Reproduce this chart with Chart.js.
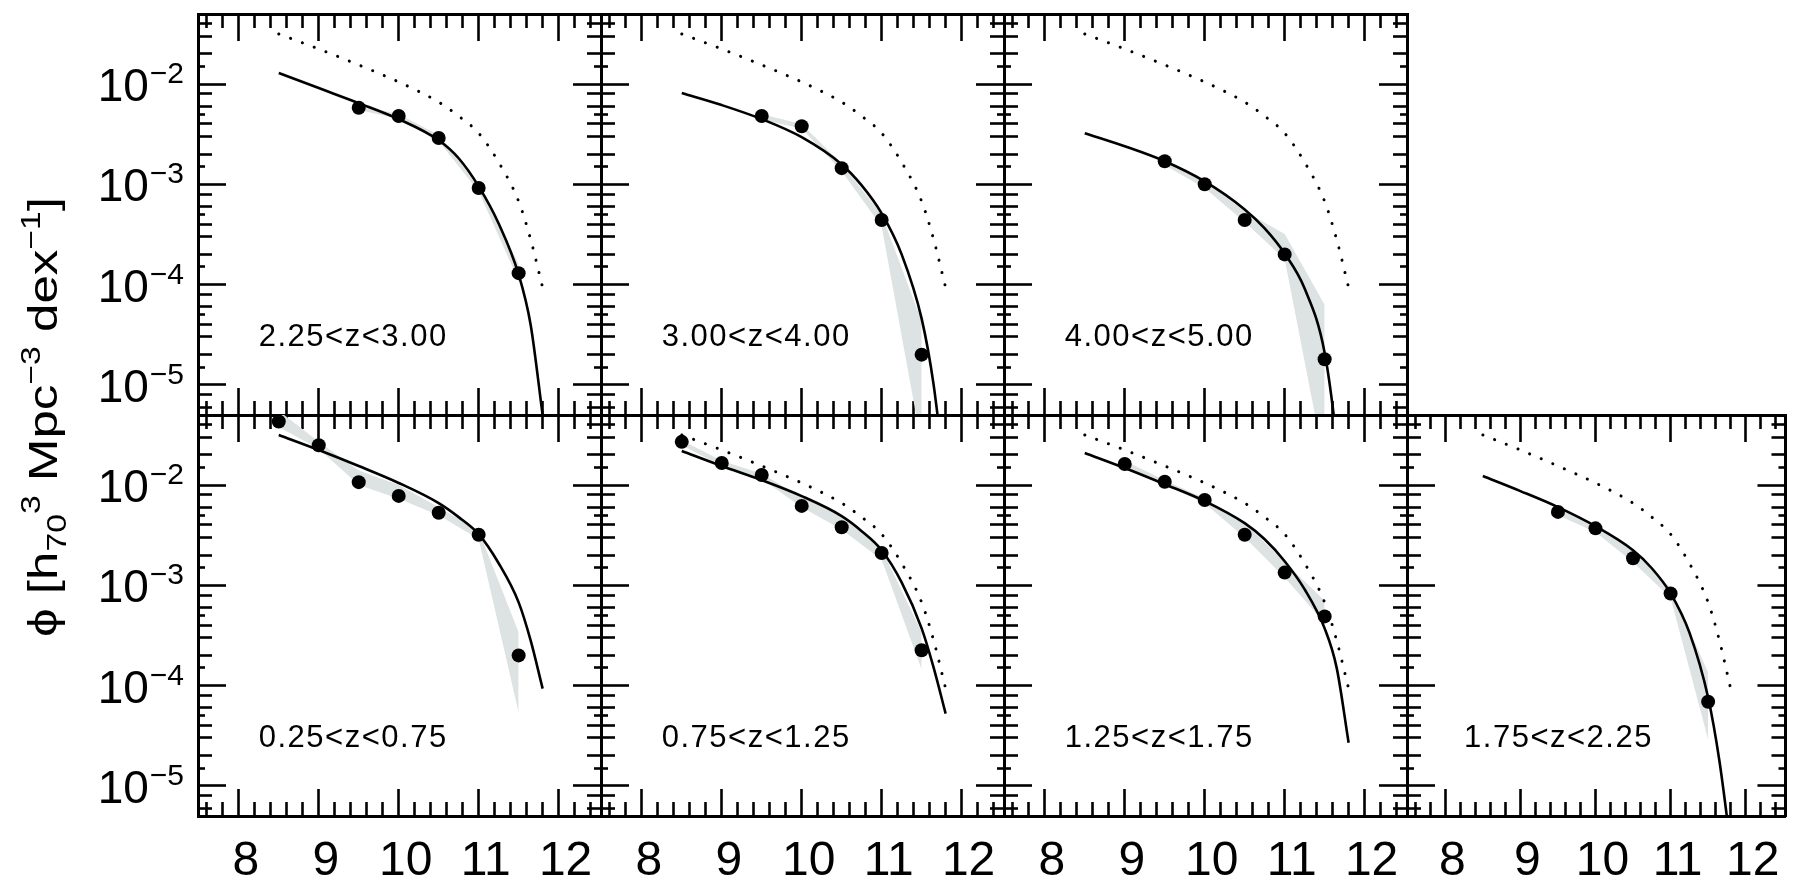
<!DOCTYPE html>
<html>
<head>
<meta charset="utf-8">
<title>Stellar mass functions by redshift bin</title>
<script src="https://cdn.jsdelivr.net/npm/chart.js@4.4.1/dist/chart.umd.min.js"></script>
<style>
  html, body { margin: 0; padding: 0; background: #ffffff; overflow: hidden; }
  #wrap { position: relative; width: 1808px; height: 882px; overflow: hidden; background: #ffffff; }
  #wrap canvas { position: absolute; left: 0; top: 0; }
</style>
</head>
<body>
<div id="wrap"></div>
<script>
// ---------------------------------------------------------------
// Axes: log stellar mass (x) and number density phi (y, log scale)
// ---------------------------------------------------------------
const massRange = [7.49, 12.53];
const phiRange = [5e-6, 5e-2];
const massTicks = [8, 9, 10, 11, 12];
const massMinorTicks = [7.6, 7.8, 8.2, 8.4, 8.6, 8.8, 9.2, 9.4, 9.6, 9.8, 10.2, 10.4,
                        10.6, 10.8, 11.2, 11.4, 11.6, 11.8, 12.2, 12.4];
const phiDecades = [1e-5, 1e-4, 1e-3, 1e-2];
const phiMinorMantissas = [2, 3, 4, 6, 8];
const phiTinyMantissas = [1.5, 5];

// Grid of masses on which every Schechter fit is tabulated
const fitMass = [8.5, 9.0, 9.5, 10.0, 10.5, 10.75, 11.0, 11.25, 11.5, 11.65, 11.8];

// Fit of the lowest-redshift bin; repeated dotted in the other bins
const refFitPhi = [3.16e-2, 2.24e-2, 1.55e-2, 1.05e-2, 6.61e-3, 4.79e-3, 3.24e-3, 1.66e-3, 6.76e-4, 2.82e-4, 9.33e-5];

// Fits per redshift bin
const fitPhi_075_125 = [2.19e-2, 1.55e-2, 1.12e-2, 7.76e-3, 4.90e-3, 3.47e-3, 2.24e-3, 1.07e-3, 3.72e-4, 1.51e-4, 5.25e-5];
const fitPhi_125_175 = [2.09e-2, 1.48e-2, 1.02e-2, 6.92e-3, 4.17e-3, 2.88e-3, 1.74e-3, 9.12e-4, 3.72e-4, 1.51e-4, 2.69e-5];
const fitPhi_175_225 = [1.23e-2, 8.71e-3, 6.03e-3, 3.89e-3, 2.24e-3, 1.48e-3, 8.32e-4, 3.39e-4, 7.59e-5, 1.78e-5, 2.51e-6];
const fitPhi_225_300 = [1.29e-2, 9.12e-3, 6.46e-3, 4.47e-3, 2.75e-3, 1.82e-3, 9.55e-4, 4.07e-4, 1.26e-4, 3.98e-5, 5.0e-6];
const fitPhi_300_400 = [8.13e-3, 6.17e-3, 4.47e-3, 2.95e-3, 1.58e-3, 9.77e-4, 5.13e-4, 2.0e-4, 4.57e-5, 1.0e-5, 1.0e-6];
const fitPhi_400_500 = [3.24e-3, 2.40e-3, 1.70e-3, 1.07e-3, 5.62e-4, 3.63e-4, 2.04e-4, 9.12e-5, 2.09e-5, 2.82e-6, 1.58e-7];

// Measured mass functions (bin centres) with their uncertainty envelopes
const binMassLow = [8.5, 9.0, 9.5, 10.0, 10.5, 11.0, 11.5];
const binMassMid = [9.0, 9.5, 10.0, 10.5, 11.0, 11.5];
const binMassHigh = [9.5, 10.0, 10.5, 11.0, 11.5];

const phi_025_075   = [4.3e-2, 2.5e-2, 1.07e-2, 7.8e-3, 5.3e-3, 3.2e-3, 2.0e-4];
const phiHi_025_075 = [5.5e-2, 2.7e-2, 1.4e-2, 1.0e-2, 6.0e-3, 3.5e-3, 3.4e-4];
const phiLo_025_075 = [3.8e-2, 2.3e-2, 1.0e-2, 7.3e-3, 5.0e-3, 2.9e-3, 5.4e-5];

const phi_075_125   = [2.7e-2, 1.66e-2, 1.26e-2, 6.2e-3, 3.8e-3, 2.1e-3, 2.25e-4];
const phiHi_075_125 = [2.8e-2, 1.75e-2, 1.3e-2, 7.6e-3, 4.8e-3, 2.3e-3, 3.4e-4];
const phiLo_075_125 = [2.5e-2, 1.55e-2, 1.15e-2, 6.0e-3, 3.6e-3, 1.8e-3, 1.45e-4];

const phi_125_175   = [1.62e-2, 1.08e-2, 7.1e-3, 3.2e-3, 1.34e-3, 4.9e-4];
const phiHi_125_175 = [1.75e-2, 1.12e-2, 7.4e-3, 4.2e-3, 1.7e-3, 7.0e-4];
const phiLo_125_175 = [1.5e-2, 1.0e-2, 6.6e-3, 3.0e-3, 1.2e-3, 4.2e-4];

const phi_175_225   = [5.4e-3, 3.7e-3, 1.86e-3, 8.3e-4, 6.9e-5];
const phiHi_175_225 = [5.8e-3, 4.0e-3, 2.2e-3, 9.5e-4, 1.35e-4];
const phiLo_175_225 = [5.0e-3, 3.4e-3, 1.7e-3, 7.5e-4, 2.9e-5];

const phi_225_300   = [5.8e-3, 4.8e-3, 2.9e-3, 9.2e-4, 1.3e-4];
const phiHi_225_300 = [6.2e-3, 5.0e-3, 3.1e-3, 1.0e-3, 1.6e-4];
const phiLo_225_300 = [5.5e-3, 4.5e-3, 2.7e-3, 8.5e-4, 1.1e-4];

const phi_300_400   = [4.8e-3, 3.8e-3, 1.45e-3, 4.4e-4, 2.0e-5];
const phiHi_300_400 = [5.0e-3, 4.0e-3, 1.6e-3, 5.0e-4, 4.3e-5];
const phiLo_300_400 = [4.4e-3, 3.6e-3, 1.35e-3, 3.8e-4, 2.5e-6];

const phi_400_500   = [1.7e-3, 1.0e-3, 4.4e-4, 2.0e-4, 1.8e-5];
const phiHi_400_500 = [1.8e-3, 1.08e-3, 5.4e-4, 3.2e-4, 6.3e-5];
const phiLo_400_500 = [1.55e-3, 0.92e-3, 4.2e-4, 1.8e-4, 1.6e-6];

// Where the redshift-bin label sits (data coordinates, left edge / middle)
const labelMass = 8.25;
const labelPhi = 3.0e-5;

// ---------------------------------------------------------------
// Styling and panel grid
// ---------------------------------------------------------------
const INK = '#000000';
const BAND = '#dde2e2';
const FONT = "'Liberation Sans', Arial, Helvetica, sans-serif";
const CANVAS_W = 1820, CANVAS_H = 882;
const colLeft = [198, 601, 1004, 1407];
const colWidth = 403;
const rowTop = [14, 415];
const rowHeight = 401;
const xLabelBand = 66;

const panels = [
  { row: 0, col: 0, text: '2.25<z<3.00', mass: binMassHigh, phi: phi_225_300, hi: phiHi_225_300, lo: phiLo_225_300, fit: fitPhi_225_300, showRef: true },
  { row: 0, col: 1, text: '3.00<z<4.00', mass: binMassHigh, phi: phi_300_400, hi: phiHi_300_400, lo: phiLo_300_400, fit: fitPhi_300_400, showRef: true },
  { row: 0, col: 2, text: '4.00<z<5.00', mass: binMassHigh, phi: phi_400_500, hi: phiHi_400_500, lo: phiLo_400_500, fit: fitPhi_400_500, showRef: true },
  { row: 1, col: 0, text: '0.25<z<0.75', mass: binMassLow,  phi: phi_025_075, hi: phiHi_025_075, lo: phiLo_025_075, fit: refFitPhi,      showRef: false },
  { row: 1, col: 1, text: '0.75<z<1.25', mass: binMassLow,  phi: phi_075_125, hi: phiHi_075_125, lo: phiLo_075_125, fit: fitPhi_075_125, showRef: true },
  { row: 1, col: 2, text: '1.25<z<1.75', mass: binMassMid,  phi: phi_125_175, hi: phiHi_125_175, lo: phiLo_125_175, fit: fitPhi_125_175, showRef: true },
  { row: 1, col: 3, text: '1.75<z<2.25', mass: binMassHigh, phi: phi_175_225, hi: phiHi_175_225, lo: phiLo_175_225, fit: fitPhi_175_225, showRef: true },
];

const xy = (xs, ys) => xs.map((x, i) => ({ x, y: ys[i] }));

function phiTicks(mantissas) {
  const out = [];
  for (const d of [1e-6].concat(phiDecades)) {
    for (const m of mantissas) {
      const v = m * d;
      if (v >= phiRange[0] * 0.999 && v <= phiRange[1] * 1.001) out.push(v);
    }
  }
  return out;
}

// Zero-size axis whose tick marks point into the plotting area
function tickAxis(position, values, length, withBorder) {
  const horiz = position === 'top' || position === 'bottom';
  return {
    type: horiz ? 'linear' : 'logarithmic',
    position,
    bounds: 'data',
    min: horiz ? massRange[0] : phiRange[0],
    max: horiz ? massRange[1] : phiRange[1],
    weight: 0,
    afterBuildTicks: s => { s.ticks = values.map(v => ({ value: v })); },
    afterFit: s => { if (horiz) s.height = 0; else s.width = 0; },
    grid: { display: true, drawOnChartArea: false, drawTicks: true, tickLength: -length, tickWidth: 2.6, tickColor: INK },
    border: { display: withBorder, width: 3, color: INK },
    ticks: { display: false },
  };
}

// Redshift-bin label inside each panel
const binLabelPlugin = {
  id: 'binLabel',
  afterDatasetsDraw(chart, args, opts) {
    if (!opts || !opts.text) return;
    const { ctx, scales } = chart;
    ctx.save();
    ctx.font = `31px ${FONT}`;
    if ('letterSpacing' in ctx) ctx.letterSpacing = '1.5px';
    ctx.fillStyle = INK;
    ctx.textAlign = 'left';
    ctx.textBaseline = 'middle';
    ctx.fillText(opts.text, scales.x.getPixelForValue(labelMass), scales.y.getPixelForValue(labelPhi));
    ctx.restore();
  }
};

// Power-of-ten labels on the left-hand axis
const powerLabelPlugin = {
  id: 'powerLabels',
  afterDraw(chart, args, opts) {
    if (!opts || !opts.show) return;
    const { ctx, chartArea, scales } = chart;
    const right = chartArea.left - 14;
    ctx.save();
    ctx.fillStyle = INK;
    ctx.textAlign = 'right';
    ctx.textBaseline = 'alphabetic';
    for (const d of phiDecades) {
      const py = scales.y.getPixelForValue(d);
      const exp = '\u2212' + Math.abs(Math.round(Math.log10(d)));
      ctx.font = `30px ${FONT}`;
      const ew = ctx.measureText(exp).width;
      ctx.fillText(exp, right, py - 1);
      ctx.font = `46px ${FONT}`;
      ctx.fillText('10', right - ew - 1, py + 17);
    }
    ctx.restore();
  }
};

// Rotated y-axis title with sub/superscripts
const titleRuns = [
  { text: '\u03D5 [h', kind: 'base' },
  { text: '70', kind: 'sub' },
  { text: '3', kind: 'sup' },
  { text: ' Mpc', kind: 'base' },
  { text: '\u22123', kind: 'sup' },
  { text: ' dex', kind: 'base' },
  { text: '\u22121', kind: 'sup' },
  { text: ']', kind: 'base' },
];
const yTitlePlugin = {
  id: 'yTitle',
  afterDraw(chart, args, opts) {
    if (!opts || !opts.show) return;
    const { ctx, chartArea } = chart;
    const size = { base: 41, sub: 27, sup: 27 };
    const shift = { base: 0, sub: 9, sup: -17 };
    ctx.save();
    const widths = titleRuns.map(r => { ctx.font = `${size[r.kind]}px ${FONT}`; return ctx.measureText(r.text).width; });
    const total = widths.reduce((a, b) => a + b, 0);
    ctx.translate(chartArea.left - 141, chartArea.top + 2);
    ctx.rotate(-Math.PI / 2);
    ctx.scale(440 / total, 1);
    ctx.fillStyle = INK;
    ctx.textAlign = 'left';
    ctx.textBaseline = 'alphabetic';
    let x = -total / 2;
    titleRuns.forEach((r, i) => {
      ctx.font = `${size[r.kind]}px ${FONT}`;
      ctx.fillText(r.text, x, shift[r.kind]);
      x += widths[i];
    });
    ctx.restore();
  }
};

const wrap = document.getElementById('wrap');

panels.forEach(p => {
  const canvas = document.createElement('canvas');
  canvas.width = CANVAS_W;
  canvas.height = CANVAS_H;
  canvas.style.width = CANVAS_W + 'px';
  canvas.style.height = CANVAS_H + 'px';
  wrap.appendChild(canvas);

  const left = colLeft[p.col];
  const top = rowTop[p.row];
  const labelled = p.row === 1;

  const datasets = [
    { data: xy(p.mass, p.hi), fill: '+1', backgroundColor: BAND, borderWidth: 0, pointRadius: 0, order: 5 },
    { data: xy(p.mass, p.lo), fill: false, borderWidth: 0, pointRadius: 0, order: 6 },
  ];
  if (p.showRef) {
    datasets.push({ data: xy(fitMass, refFitPhi), borderColor: INK, borderWidth: 3, borderDash: [0.1, 12.5],
      borderCapStyle: 'round', pointRadius: 0, fill: false, cubicInterpolationMode: 'monotone', order: 3 });
  }
  datasets.push({ data: xy(fitMass, p.fit), borderColor: INK, borderWidth: 2.6, pointRadius: 0, fill: false,
    cubicInterpolationMode: 'monotone', order: 2 });
  datasets.push({ data: xy(p.mass, p.phi), showLine: false, pointRadius: 7, pointBackgroundColor: INK,
    pointBorderWidth: 0, clip: false, order: 1 });

  const scales = {
    x: tickAxis('bottom', massTicks, 27, true),
    xMinor: tickAxis('bottom', massMinorTicks, 14, false),
    xTop: tickAxis('top', massTicks, 27, true),
    xTopMinor: tickAxis('top', massMinorTicks, 14, false),
    y: tickAxis('left', phiDecades, 28, true),
    yMinor: tickAxis('left', phiTicks(phiMinorMantissas), 14, false),
    yTiny: tickAxis('left', phiTicks(phiTinyMantissas), 7, false),
    yRight: tickAxis('right', phiDecades, 28, true),
    yRightMinor: tickAxis('right', phiTicks(phiMinorMantissas), 14, false),
    yRightTiny: tickAxis('right', phiTicks(phiTinyMantissas), 7, false),
  };
  if (labelled) {
    scales.x.weight = 1;
    scales.x.afterFit = s => { s.height = xLabelBand; };
    scales.x.ticks = {
      display: true, autoSkip: false, maxRotation: 0, minRotation: 0,
      padding: 44, labelOffset: 7, color: INK,
      font: { family: FONT, size: 48 },
      callback: v => String(v),
    };
  }

  new Chart(canvas, {
    type: 'line',
    data: { datasets },
    options: {
      responsive: false,
      animation: false,
      devicePixelRatio: 1,
      events: [],
      layout: {
        padding: {
          left: left,
          top: top,
          right: CANVAS_W - (left + colWidth),
          bottom: CANVAS_H - (top + rowHeight) - (labelled ? xLabelBand : 0),
        }
      },
      scales,
      plugins: {
        legend: { display: false },
        tooltip: { enabled: false },
        binLabel: { text: p.text },
        powerLabels: { show: p.col === 0 },
        yTitle: { show: p.col === 0 && p.row === 1 },
      },
    },
    plugins: [binLabelPlugin, powerLabelPlugin, yTitlePlugin],
  });
});
</script>
</body>
</html>
